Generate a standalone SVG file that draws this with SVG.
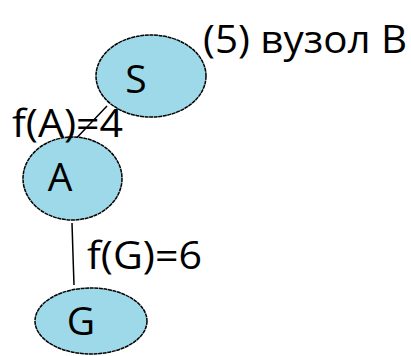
<svg xmlns="http://www.w3.org/2000/svg" width="411" height="356" viewBox="0 0 411 356">
  <style>
    .node { fill: #9dd9e8; stroke: #000; stroke-width: 1.5; stroke-dasharray: 4 0.6; }
    .edge { stroke: #000; stroke-width: 1.5; fill: none; }
    .lbl { font-family: "Open Sans", "Liberation Sans", sans-serif; font-size: 39px; fill: #000; }
  </style>
  <rect width="411" height="356" fill="#fff"/>
  <g id="connectors">
    <line class="edge" x1="107" y1="106" x2="68" y2="147"/>
    <polyline class="edge" points="72,223 73,255 74,285"/>
  </g>
  <g id="node-S">
    <ellipse class="node" cx="151" cy="76" rx="55" ry="41"/>
    <text class="lbl" x="136" y="93" text-anchor="middle">S</text>
  </g>
  <g id="node-A">
    <ellipse class="node" cx="72.5" cy="178.5" rx="49.5" ry="41.5"/>
    <text class="lbl" x="60" y="191" text-anchor="middle">A</text>
  </g>
  <g id="node-G">
    <ellipse class="node" cx="91" cy="321" rx="56" ry="33"/>
    <text class="lbl" x="81" y="335" text-anchor="middle">G</text>
  </g>
  <g id="labels">
    <text class="lbl" x="203" y="53" textLength="204" lengthAdjust="spacingAndGlyphs">(5) вузол В</text>
    <text class="lbl" x="12" y="137" textLength="111" lengthAdjust="spacingAndGlyphs">f(A)=4</text>
    <text class="lbl" x="87" y="269" textLength="115" lengthAdjust="spacingAndGlyphs">f(G)=6</text>
  </g>
</svg>
